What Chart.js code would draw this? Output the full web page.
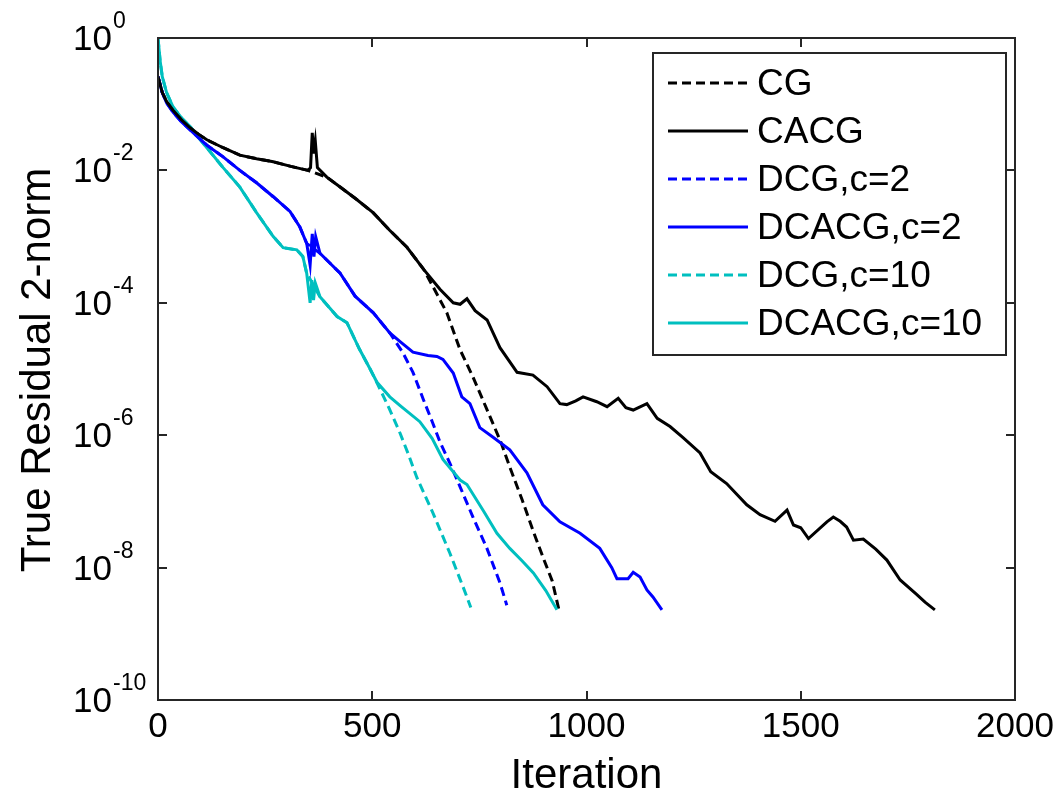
<!DOCTYPE html>
<html>
<head>
<meta charset="utf-8">
<script src="https://cdn.jsdelivr.net/npm/chart.js@4"></script>
<style>
  html, body { margin: 0; padding: 0; background: #fff; }
  canvas { display: block; }
</style>
</head>
<body>
<canvas id="c" width="1060" height="793"></canvas>
<script>
// residual history

const X_TICKS = [0, 500, 1000, 1500, 2000];
const Y_TICKS = [1, 1e-2, 1e-4, 1e-6, 1e-8, 1e-10];
const Y_TICK_EXP = ['0', '-2', '-4', '-6', '-8', '-10'];
const SERIES_NAMES = ['CG', 'CACG', 'DCG,c=2', 'DCACG,c=2', 'DCG,c=10', 'DCACG,c=10'];

const ITER_CACG = [0, 10, 20, 35, 55, 75, 95, 114, 152, 191, 230, 269, 310, 350, 356, 360, 363, 367, 372, 394, 425, 460, 502, 540, 581, 620, 658, 689, 705, 721, 740, 768, 798, 838, 875, 908, 938, 954, 975, 992, 1024, 1048, 1074, 1092, 1109, 1141, 1165, 1195, 1226, 1265, 1290, 1327, 1374, 1405, 1440, 1468, 1483, 1500, 1518, 1561, 1576, 1592, 1607, 1623, 1646, 1675, 1701, 1732, 1771, 1790, 1813];
const RES_CACG = [2.6e-1, 1.5e-1, 1.1e-1, 8.1e-2, 5.8e-2, 4.4e-2, 3.5e-2, 2.9e-2, 2.2e-2, 1.7e-2, 1.5e-2, 1.35e-2, 1.15e-2, 1.0e-2, 1.1e-2, 3.7e-2, 1.8e-2, 2.8e-2, 1.1e-2, 7.9e-3, 5.6e-3, 3.8e-3, 2.3e-3, 1.26e-3, 6.9e-4, 3.2e-4, 1.6e-4, 1.0e-4, 9.5e-5, 1.15e-4, 7.6e-5, 5.5e-5, 2.1e-5, 8.9e-6, 8.1e-6, 5.4e-6, 3.0e-6, 2.9e-6, 3.3e-6, 3.8e-6, 3.2e-6, 2.7e-6, 3.6e-6, 2.6e-6, 2.4e-6, 3.0e-6, 1.8e-6, 1.35e-6, 9.1e-7, 5.4e-7, 2.8e-7, 1.86e-7, 8.9e-8, 6.3e-8, 5.0e-8, 7.4e-8, 4.4e-8, 4.0e-8, 2.75e-8, 4.9e-8, 5.8e-8, 5.0e-8, 4.1e-8, 2.6e-8, 2.7e-8, 1.9e-8, 1.3e-8, 6.5e-9, 3.9e-9, 3.0e-9, 2.3e-9];

const ITER_CG = [0, 10, 20, 35, 55, 75, 95, 114, 152, 191, 230, 269, 310, 350, 394, 425, 460, 502, 540, 581, 620, 642, 674, 705, 735, 767, 800, 821, 850, 876, 900, 920, 935];
const RES_CG = [2.6e-1, 1.5e-1, 1.1e-1, 8.1e-2, 5.8e-2, 4.4e-2, 3.5e-2, 2.9e-2, 2.2e-2, 1.7e-2, 1.5e-2, 1.35e-2, 1.15e-2, 1.0e-2, 7.9e-3, 5.6e-3, 3.8e-3, 2.3e-3, 1.26e-3, 6.9e-4, 3.2e-4, 1.74e-4, 7.1e-5, 1.95e-5, 7.6e-6, 2.5e-6, 7.9e-7, 3.3e-7, 1.05e-7, 3.5e-8, 1.35e-8, 6.3e-9, 2.4e-9];

const ITER_DCACG2 = [0, 10, 20, 35, 55, 75, 95, 114, 152, 191, 230, 269, 308, 331, 347, 355, 360, 364, 368, 378, 425, 460, 502, 541, 565, 595, 630, 651, 665, 689, 709, 728, 751, 782, 821, 861, 898, 938, 985, 1031, 1059, 1071, 1097, 1109, 1125, 1141, 1155, 1176];
const RES_DCACG2 = [2.6e-1, 1.5e-1, 1.05e-1, 7.6e-2, 5.4e-2, 4.1e-2, 3.1e-2, 2.4e-2, 1.6e-2, 1.0e-2, 6.5e-3, 4.0e-3, 2.4e-3, 1.4e-3, 7.9e-4, 3.7e-4, 1.1e-3, 5.0e-4, 1.0e-3, 5.6e-4, 2.8e-4, 1.26e-4, 7.1e-5, 3.5e-5, 2.6e-5, 1.8e-5, 1.6e-5, 1.55e-5, 1.4e-5, 8.7e-6, 3.8e-6, 3.0e-6, 1.3e-6, 9.3e-7, 6.0e-7, 2.7e-7, 8.9e-8, 4.9e-8, 3.3e-8, 1.95e-8, 1.0e-8, 6.8e-9, 6.8e-9, 8.5e-9, 7.2e-9, 4.6e-9, 3.6e-9, 2.3e-9];

const ITER_DCG2 = [0, 10, 20, 35, 55, 75, 95, 114, 152, 191, 230, 269, 308, 331, 347, 378, 425, 460, 502, 541, 572, 595, 619, 640, 658, 681, 705, 735, 767, 798, 814];
const RES_DCG2 = [2.6e-1, 1.5e-1, 1.05e-1, 7.6e-2, 5.4e-2, 4.1e-2, 3.1e-2, 2.4e-2, 1.6e-2, 1.0e-2, 6.5e-3, 4.0e-3, 2.4e-3, 1.4e-3, 7.9e-4, 5.6e-4, 2.8e-4, 1.26e-4, 7.1e-5, 3.5e-5, 1.74e-5, 8.9e-6, 3.5e-6, 1.6e-6, 7.9e-7, 3.8e-7, 1.66e-7, 5.8e-8, 2.0e-8, 5.9e-9, 2.7e-9];

const ITER_DCACG10 = [0, 5, 10, 20, 35, 55, 75, 95, 114, 152, 191, 230, 269, 292, 324, 338, 347, 355, 359, 363, 367, 378, 418, 441, 470, 495, 511, 541, 565, 611, 640, 665, 705, 721, 760, 791, 821, 850, 876, 905, 931];
const RES_DCACG10 = [1.0, 4.5e-1, 2.6e-1, 1.5e-1, 9.1e-2, 6.2e-2, 4.6e-2, 3.1e-2, 2.2e-2, 1.1e-2, 5.6e-3, 2.3e-3, 1.0e-3, 6.8e-4, 6.3e-4, 5.0e-4, 2.8e-4, 1.0e-4, 2.2e-4, 1.1e-4, 2.0e-4, 1.23e-4, 6.2e-5, 5.0e-5, 2.0e-5, 1.0e-5, 6.3e-6, 3.8e-6, 2.8e-6, 1.6e-6, 8.9e-7, 4.3e-7, 2.1e-7, 1.8e-7, 7.1e-8, 3.3e-8, 1.95e-8, 1.26e-8, 8.3e-9, 4.5e-9, 2.3e-9];

const ITER_DCG10 = [0, 5, 10, 20, 35, 55, 75, 95, 114, 152, 191, 230, 269, 292, 324, 338, 347, 378, 418, 441, 470, 495, 511, 540, 565, 585, 604, 642, 681, 712, 730];
const RES_DCG10 = [1.0, 4.5e-1, 2.6e-1, 1.5e-1, 9.1e-2, 6.2e-2, 4.6e-2, 3.1e-2, 2.2e-2, 1.1e-2, 5.6e-3, 2.3e-3, 1.0e-3, 6.8e-4, 6.3e-4, 5.0e-4, 2.8e-4, 1.23e-4, 6.2e-5, 5.0e-5, 2.0e-5, 1.0e-5, 6.2e-6, 2.5e-6, 1.07e-6, 5.0e-7, 2.3e-7, 6.6e-8, 1.66e-8, 5.1e-9, 2.5e-9];

const FONT = '"Liberation Sans", Arial, Helvetica, sans-serif';
const AXIS_INK = '#262626';
const BLUE = '#0000ff';
const CYAN = '#00bfbf';
const DASH = [9, 5];

function pts(xs, ys) {
  return xs.map((x, i) => ({ x, y: ys[i] }));
}

function line(label, xs, ys, color, dashed, order) {
  return {
    label,
    data: pts(xs, ys),
    borderColor: color,
    backgroundColor: color,
    borderWidth: 3,
    borderDash: dashed ? DASH : [],
    pointRadius: 0,
    tension: 0,
    fill: false,
    order,
  };
}

// MATLAB-style frame, inward ticks, 10^n labels, axis titles and boxed legend
const matlabAxes = {
  id: 'matlabAxes',
  afterDraw(chart) {
    const { ctx, chartArea: a, scales } = chart;
    const xs = scales.x, ys = scales.y;
    const tick = 9;
    ctx.save();
    ctx.strokeStyle = AXIS_INK;
    ctx.lineWidth = 2;
    ctx.setLineDash([]);
    ctx.strokeRect(a.left, a.top, a.right - a.left, a.bottom - a.top);

    ctx.beginPath();
    X_TICKS.forEach(v => {
      const px = Math.round(xs.getPixelForValue(v));
      ctx.moveTo(px, a.bottom); ctx.lineTo(px, a.bottom - tick);
      ctx.moveTo(px, a.top); ctx.lineTo(px, a.top + tick);
    });
    Y_TICKS.forEach(v => {
      const py = Math.round(ys.getPixelForValue(v));
      ctx.moveTo(a.left, py); ctx.lineTo(a.left + tick, py);
      ctx.moveTo(a.right, py); ctx.lineTo(a.right - tick, py);
    });
    ctx.stroke();

    ctx.fillStyle = '#000';
    ctx.font = `35px ${FONT}`;
    ctx.textAlign = 'center';
    ctx.textBaseline = 'alphabetic';
    X_TICKS.forEach(v => {
      ctx.fillText(String(v), xs.getPixelForValue(v), a.bottom + 37);
    });

    Y_TICKS.forEach((v, i) => {
      const py = ys.getPixelForValue(v);
      ctx.textAlign = 'left';
      ctx.font = `35px ${FONT}`;
      ctx.fillText('10', 73, py + 12);
      ctx.font = `23px ${FONT}`;
      ctx.fillText(Y_TICK_EXP[i], 113, py - 10);
    });

    ctx.font = `42px ${FONT}`;
    ctx.textAlign = 'center';
    ctx.fillText('Iteration', (a.left + a.right) / 2, 788);

    ctx.save();
    ctx.translate(50, 370);
    ctx.rotate(-Math.PI / 2);
    ctx.font = `42px ${FONT}`;
    ctx.fillText('True Residual 2-norm', 0, 0);
    ctx.restore();

    // legend
    const box = { l: 653, t: 53, r: 1006, b: 355 };
    ctx.fillStyle = '#fff';
    ctx.fillRect(box.l, box.t, box.r - box.l, box.b - box.t);
    ctx.strokeStyle = AXIS_INK;
    ctx.lineWidth = 2;
    ctx.strokeRect(box.l, box.t, box.r - box.l, box.b - box.t);
    ctx.font = `37px ${FONT}`;
    ctx.textAlign = 'left';
    ctx.textBaseline = 'middle';
    chart.data.datasets.forEach((ds, i) => {
      const cy = 83 + i * 48;
      ctx.beginPath();
      ctx.strokeStyle = ds.borderColor;
      ctx.lineWidth = 3;
      ctx.setLineDash(ds.borderDash);
      ctx.moveTo(668, cy); ctx.lineTo(748, cy);
      ctx.stroke();
      ctx.setLineDash([]);
      ctx.fillStyle = '#000';
      ctx.fillText(ds.label, 757, cy + 2);
    });
    ctx.restore();
  }
};

new Chart(document.getElementById('c').getContext('2d'), {
  type: 'line',
  data: {
    datasets: [
      line(SERIES_NAMES[0], ITER_CG, RES_CG, '#000', true, 6),
      line(SERIES_NAMES[1], ITER_CACG, RES_CACG, '#000', false, 1),
      line(SERIES_NAMES[2], ITER_DCG2, RES_DCG2, BLUE, true, 5),
      line(SERIES_NAMES[3], ITER_DCACG2, RES_DCACG2, BLUE, false, 2),
      line(SERIES_NAMES[4], ITER_DCG10, RES_DCG10, CYAN, true, 4),
      line(SERIES_NAMES[5], ITER_DCACG10, RES_DCACG10, CYAN, false, 3),
    ],
  },
  options: {
    responsive: false,
    animation: false,
    events: [],
    layout: { padding: { left: 158, top: 38, right: 45, bottom: 93 } },
    scales: {
      x: { type: 'linear', min: 0, max: 2000, display: false },
      y: { type: 'logarithmic', min: 1e-10, max: 1, display: false },
    },
    plugins: { legend: { display: false }, tooltip: { enabled: false } },
  },
  plugins: [matlabAxes],
});
</script>
</body>
</html>
